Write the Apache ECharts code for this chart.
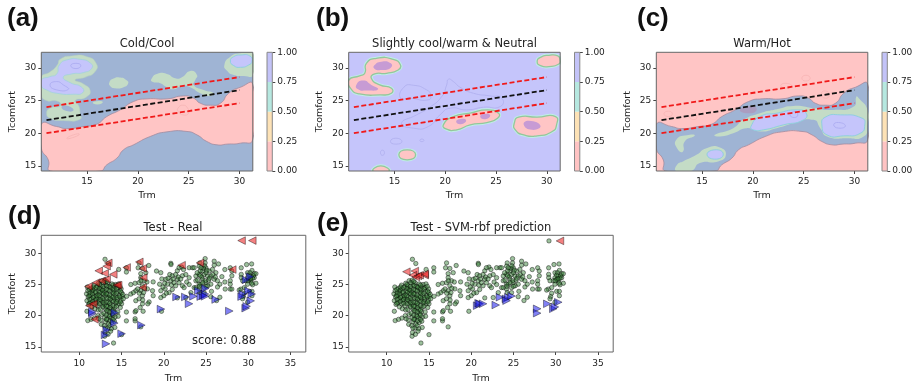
<!DOCTYPE html>
<html><head><meta charset="utf-8">
<style>html,body{margin:0;padding:0;background:#fff}#c{width:921px;height:385px;filter:blur(0.45px)}</style>
<script src="https://cdn.jsdelivr.net/npm/echarts@6/dist/echarts.min.js"></script></head>
<body><div id="c"></div>
<script>
// ---------- decision-region outlines, in data units (Trm, Tcomfort)
const bandOutline=[[10.49,21.38],[12,21.02],[13,20.7],[14.64,21.02],[15.95,21.38],[16.94,22.55],[18.26,23.57],[19.57,24.85],[20.89,25.26],[22.86,25.26],[24.5,25.71],[25.49,25.36],[26.15,24.59],[27.14,24.29],[28.13,24.59],[28.95,26.12],[30.1,27.04],[31.32,27.45],[31.32,19.08],[30.1,18.47],[28.78,18.32],[27.8,18.21],[26.8,18.72],[25.82,19.74],[24.84,20.26],[22.86,20.2],[21.22,19.49],[19.57,18.21],[18.59,17.45],[17.93,16.17],[16.94,15.15],[16.28,14.2],[11.41,14.2],[11.18,15.9],[10.49,17.7]];
const aGreenLeft=[[10.49,28.57],[11.35,29.39],[12.07,30.46],[12.34,31.33],[13.49,31.84],[14.97,31.73],[15.89,30.71],[15.79,29.44],[14.8,28.57],[13.82,28.16],[14.64,27.55],[15.3,26.53],[14.9,25.51],[13.82,25],[14.18,24.18],[14.31,23.06],[14.31,22.14],[12.66,21.94],[11.35,22.3],[11.02,23.06],[11.35,23.83],[12.34,24.18],[12.17,24.85],[10.86,25.1],[10.49,26.12]];
const aHole=[[12.5,24.08],[13.16,24.18],[13.65,23.47],[12.83,23.47]];
const aGreenMid=[[17.2,27.81],[17.6,28.37],[18.26,28.52],[18.85,28.16],[19.05,27.65],[18.59,27.04],[17.76,26.89],[17.27,27.24]];
const aGreenDot=[[15.56,24.69],[16.12,24.95],[16.55,24.74],[16.02,24.39]];
const aGreenRight=[[21.38,28.42],[21.88,29.08],[22.86,29.08],[23.68,28.42],[24.34,28.57],[25.16,29.54],[25.82,28.93],[25.66,28.16],[25.49,27.4],[26.48,26.63],[27.47,26.12],[27.14,25.71],[26.15,26.12],[25.16,27.04],[24.34,27.24],[23.52,26.73],[22.86,27.04],[22.2,27.65],[21.38,27.91]];
const aGreenCorner=[[28.52,30.46],[29.11,31.73],[30.1,32.24],[31.32,32.35],[31.32,28.93],[30.43,28.78],[29.44,28.93],[28.78,29.59]];
const aLavLeft=[[10.49,28.16],[11.35,28.67],[12.01,29.08],[12.27,30.46],[12.99,31.22],[14.31,31.33],[15.36,30.71],[15.46,29.95],[14.64,29.29],[13.49,29.08],[12.66,28.57],[13.32,27.76],[14.47,27.04],[14.57,26.22],[13.65,25.97],[12.01,26.12],[11.02,26.63],[10.49,27.24]];
const aLavCorner=[[29.11,31.07],[29.44,31.73],[30.16,31.99],[31.02,31.84],[31.25,31.07],[30.92,30.46],[30.1,30.1],[29.44,30.36]];
const aLoops=[[[13.39,30.36],[13.91,30.71],[14.38,30.36],[13.91,29.9]],[[11.35,27.4],[12.01,27.91],[12.66,27.4],[13.16,26.73],[12.01,26.63]]];
const aPinkLoops=[[[13,19.18],[13.65,19.74],[14.24,19.85],[13.72,19.39]],[[23.95,23.83],[24.44,24.29],[24.9,23.83],[25,23.06],[24.44,22.8],[24,23.3]]];

const bPink=[
 [[10.52,28.16],[11.57,28.78],[12.07,29.18],[12.23,30.71],[13.22,31.48],[14.87,31.33],[15.59,30.46],[15.36,29.69],[14.21,29.18],[13.05,29.08],[12.72,28.42],[13.55,27.4],[14.7,26.89],[14.7,26.12],[13.55,25.87],[11.57,26.02],[10.75,26.73]],
 [[29.05,30.97],[29.38,31.63],[30.2,31.94],[31.09,31.84],[31.3,31.22],[31.19,30.61],[30.2,30.2],[29.38,30.36]],
 [[19.81,21.28],[20.8,22.55],[22.45,23.06],[24.1,23.57],[25.25,23.06],[25.15,22.3],[24.1,21.63],[22.45,21.28],[21.13,20.51],[20.14,20.61]],
 [[26.8,21.53],[27.23,22.45],[29.05,22.45],[30.86,22.55],[30.96,21.28],[30.53,20.26],[29.05,19.59],[27.73,19.74],[26.9,20.51]],
 [[15.43,16.68],[16.25,17.45],[17.08,16.68],[16.25,15.92]],
 [[12.89,14.2],[13.65,15],[14.47,14.2]]];
const bPurple=[
 [[12.99,30.36],[13.71,30.97],[14.64,30.71],[14.64,30.05],[13.71,29.69],[13.05,29.85]],
 [[11.24,27.4],[11.9,28.06],[12.72,27.4],[13.38,26.73],[12.23,26.53],[11.41,26.73]],
 [[21.07,21.79],[21.54,22.19],[22.06,21.94],[21.54,21.38]],
 [[23.44,22.55],[23.94,22.96],[24.43,22.7],[23.94,22.14]],
 [[27.73,21.28],[28.22,21.89],[29.38,21.12],[28.55,20.51]]];
const bLoops=[
 [[15.59,25.36],[15.92,27.04],[16.85,27.35],[18.17,26.63],[18.56,25.87],[18.33,25.1],[16.52,25.36]],
 [[20.14,27.4],[20.31,28.27],[20.8,27.91],[21.46,27.04],[22.78,26.12],[24.43,25.71],[25.58,25.36],[25.42,24.08],[23.77,23.98],[22.12,23.57],[20.47,23.83],[19.48,22.81],[18.33,21.02],[16.85,20.77],[15.69,21.53],[17.18,22.81],[18.33,23.83],[19.65,25.61]],
 [[14.6,18.72],[15.13,19.23],[15.73,18.72],[15.13,18.32]],
 [[13.62,17],[13.81,17.4],[14.01,17],[13.81,16.6]],
 [[17.5,18.9],[17.7,19.1],[17.9,18.9],[17.7,18.7]]];

const cGreen=[
 [[16.25,19.74],[18.07,20.77],[19.06,22.04],[20.7,23.06],[22.35,23.67],[24,24.18],[25.98,23.83],[27.96,23.57],[29.94,24.08],[30.2,25.61],[30.43,25.36],[31.3,23.57],[31.3,21.28],[30.92,19.49],[29.28,19.23],[27.3,19.49],[26.64,20.77],[25.98,22.04],[24,21.53],[22.35,20.77],[20.7,20.26],[19.39,20.77],[18.07,20],[16.75,19.49]],
 [[12.46,14.2],[12.53,15.15],[13.12,15.66],[14.44,16.68],[15.43,17.7],[16.75,17.81],[17.34,16.68],[16.58,15.66],[14.77,15.41],[13.94,14.2]],
 [[12.46,18.98],[13.78,19.74],[14.27,19.59],[13.29,18.72],[13.12,17.19],[12.63,17.45]]];
const cLav=[
 [[19.81,21.02],[20.7,22.55],[22.35,23.06],[24.33,23.57],[25.25,23.06],[24.99,22.04],[23.01,21.28],[21.03,20.51],[20.04,20.51]],
 [[26.8,21.28],[27.13,22.45],[28.62,22.81],[30.76,22.3],[31.02,21.28],[30.6,20],[28.95,19.59],[27.3,19.74]],
 [[15.49,16.68],[16.25,17.45],[17.08,16.84],[16.42,16.02]]];
const cLavLoops=[[[23.67,22.81],[24.07,23.32],[24.43,22.81],[24.07,22.4]],[[27.96,21.28],[28.45,21.64],[29.11,21.12],[28.45,20.77]]];
const cMauve=[[18.73,23.57],[19.88,24.18],[20.37,23.57],[19.55,23.06]];
const cPinkLoops=[[[11.24,22.96],[11.7,23.37],[12.07,22.96],[11.7,22.55]],[[13.78,22.45],[14.18,22.81],[14.5,22.45],[14.18,22.09]],[[22.75,27.3],[23.24,27.65],[23.84,27.24],[23.24,26.94]],[[24.83,28.42],[25.22,28.88],[25.65,28.42],[25.22,28]],[[26.74,26.02],[27.13,26.48],[27.56,25.87],[27.13,25.36]]];

// ---------- comfort lines
const comfortTrm=[11,30];
const comfortMid=[22,26.6];
const comfortHigh=[24,28.6];
const comfortLow=[20,24.6];

// ---------- test points (d) and (e)
const testGreen=[
[11,19.2],[10.9,20.7],[11.1,21.8],[10.9,22.4],[11.05,23],[10.85,23.5],[11,24],[10.95,24.6],
[11.4,19.4],[11.5,21.4],[11.35,22.1],[11.45,22.7],[11.3,23.3],[11.5,23.9],[11.4,24.4],
[11.8,19.6],[11.85,21.1],[11.75,21.9],[11.9,22.5],[11.7,23.1],[11.85,23.7],[11.8,24.3],[11.75,24.9],
[12.2,20],[12.25,20.9],[12.15,21.6],[12.3,22.3],[12.1,22.9],[12.2,23.4],[12.3,24],[12.15,24.7],[12.25,25.2],
[12.6,18.6],[12.55,19.3],[12.65,20.2],[12.5,21],[12.7,21.7],[12.6,22.4],[12.55,23],[12.7,23.6],[12.6,24.2],[12.5,24.8],[12.65,25.6],
[13,16.7],[13.05,17.3],[12.95,18.4],[13.1,19],[13,19.7],[12.9,20.4],[13.1,21.1],[13,21.8],[12.95,22.5],[13.05,23.2],[13,23.8],[12.9,24.4],[13.1,25],[13,25.7],[13.04,29.05],[13.44,28.37],
[13.4,17],[13.35,18],[13.45,18.7],[13.3,19.4],[13.5,20.1],[13.4,20.8],[13.35,21.5],[13.45,22.2],[13.5,22.9],[13.3,23.5],[13.4,24.1],[13.5,24.7],[13.35,25.3],
[13.8,17.9],[13.85,18.9],[13.75,19.6],[13.9,20.3],[13.8,21],[13.7,21.7],[13.85,22.4],[13.8,23.1],[13.9,23.8],[13.75,24.5],[13.85,25.1],
[14.2,18.1],[14.15,19.1],[14.25,19.8],[14.1,20.6],[14.2,21.3],[14.3,22],[14.15,22.7],[14.25,23.3],[14.1,24],[14.2,24.6],[14.3,25],
[14.6,19.9],[14.55,20.6],[14.65,21.9],[14.5,22.6],[14.7,23.2],[14.6,23.9],[14.55,24.5],[14.65,25.1],
[15,21.9],[14.95,22.5],[15.05,23.1],[15,23.7],[14.95,24.3],[14.66,27.42],[15.57,27.68],[15.57,27],[14.05,15.6],[15,16.95],
// denser core of the cold cluster
[11.2,22],[11.25,22.6],[11.15,23.2],[11.25,23.7],[11.2,24.2],[11.6,22.3],[11.65,22.9],[11.55,23.5],[11.6,24.1],[11.65,24.6],[12,22],[12,22.6],[12.05,23.2],[11.95,23.8],[12,24.5],[12.4,21.9],[12.45,22.6],[12.35,23.2],[12.45,23.8],[12.4,24.4],[12.4,25],[12.8,21.4],[12.85,22.1],[12.8,22.8],[12.85,23.5],[12.75,24.1],[12.8,24.7],[12.85,25.3],[13.2,19.4],[13.2,20.1],[13.25,20.8],[13.2,21.5],[13.2,22.2],[13.25,22.8],[13.2,23.5],[13.2,24.2],[13.25,24.8],[13.2,25.5],[13.6,18.4],[13.65,19.2],[13.6,19.9],[13.6,20.6],[13.65,21.3],[13.6,22],[13.65,22.7],[13.6,23.3],[13.6,24],[13.65,24.6],[14,19.4],[14,20.1],[14,20.9],[14,21.6],[14.05,22.3],[14,23],[14.05,23.6],[14,24.3],[14,24.9],[14.4,21.5],[14.4,22.2],[14.45,22.9],[14.4,23.6],[14.4,24.3],[14.85,21.3],[14.85,22.2],[14.8,23],[14.85,23.9],[14.8,24.7],[15.15,23.4],[15.2,22.7],[13.1,18],[13.7,17.5],[12.3,19.5],
[17.08,28.47],[16.96,27.68],[17.47,27.58],[18.22,28.05],[17.27,26.74],[17.87,26.9],[16.09,25],[18.74,25.42],[16.6,25.2],[16.09,23.47],[16.68,24],[16.68,22.4],[16.6,20.6],[16.7,20.8],[15.57,20.58],[15.57,19.16],[16.6,19.16],[17.27,18.2],[16.6,19.5],
[17.27,26.1],[17.07,25.3],[17.47,24.8],[17.27,24],[17.47,23.2],[17.07,22.7],[17.47,21.9],[17.55,20.7],[17.67,25.6],[18.06,24.3],[18.66,24],[18.74,23.2],[18.26,22.2],[18.1,21.9],[15.6,23.1],[16.4,23.7],[17.7,24.4],[17.1,23.6],[17.5,22.5],[16.9,24.3],[17.3,25.6],[17.6,23.7],[17.2,21.3],[18,25.4],
[19.72,20.7],[19.13,27.16],[20.83,28.4],[20.85,28.2],[21.6,27.2],[22.1,27.8],[22.33,27.4],[23,27.7],[23.4,27.7],
[19.64,26.9],[19.76,25.9],[19.5,25.05],[19.64,24],[20.16,24.3],[20.43,25.05],[20.7,26.6],[21,26.4],[20.83,25.6],[20.24,25.84],[20,23.2],[19.64,22.9],[20.63,23.7],[21.4,26.6],[21.6,25.84],[21.8,27.7],[22.2,26.4],[21.4,24.8],[22.2,24.8],[22.4,24.5],[21.8,25.3],[23,25],[23.2,23.7],[22.6,22.9],[21.6,22.85],[23,26.1],[20.9,24.9],[21.2,25.3],[20.5,26],[20.1,25.2],[19.9,24.6],[21,24.2],[21.7,26.2],[21.1,25.9],[22,25.9],[20.3,23.6],[22.6,26.6],[22.7,25.4],
[24.89,29.16],[24.89,28.47],[25.96,28.74],[25.96,28.1],[26.47,28.3],[24.26,28.47],[24.18,27.95],[23.59,27.7],[27.22,27.4],[27.86,27.68],[28.05,27.16],[28.05,26.4],[26.87,26.26],[27.22,25.4],[26.63,25.05],[26.35,24.6],[27.86,25.6],[27.86,25.05],[27.86,24.26],[28.05,24.26],[27.26,24.26],[25.64,23.9],[25.56,23.05],[26.24,22.42],[26.63,22.95],
[24.97,27.7],[24.58,27.16],[24.18,26.6],[23.79,26.37],[23.79,25.6],[23.59,24.5],[24.18,25.05],[24.77,26.6],[25.17,26.37],[24.58,25.84],[24.38,25.05],[24.77,24.5],[24.18,24.26],[24.97,25.3],[25.37,27.16],[25.76,27.42],[25.56,26.37],[25.96,25.84],[26.16,26.9],[26.35,25.6],[25.56,25.05],[24.77,23.7],[24.26,23.7],[23.79,24.5],[24.3,27.2],[24.7,27.6],[25,26.9],[24.5,26.2],[25.3,25.7],[25.2,24.8],[24,25.7],[24.9,25.6],[25.8,26.6],[26.1,26.2],[24.4,27.7],[24.8,28],[25.1,27.3],[24.3,26.4],[24.6,25.3],[25,24.7],[25.4,26],[23.95,26.9],[24.2,24.7],
[29.16,27.68],[29.79,28.2],[30.39,28.3],[29.16,26.63],[29.16,26.1],[29.91,26.9],[30.43,27.26],[30.7,26.74],[30.9,26.74],[30.3,26.37],[29.91,26.1],[29.71,25.6],[30.3,25.6],[30.9,25.2],[29.32,25.6],[29.91,25.05],[30.5,24.95],[29.12,24.26],[28.92,24.1],[29.52,23.6],[29.4,23.05],[30.11,23.9],[30.43,23.9],[30.43,23.2],[29.32,22.7],[29.91,22.16],[29.52,24.5],[30.7,26.1],[30.11,25.84],[30.2,26.9],[30.6,26.4],[30.4,25.2],[30.1,26.5],[30.5,26],[30.25,25.9],[29.95,25.6]];
const predOnlyGreen=[[29.2,32]];
const realRed=[[29.2,32.05],[30.47,32.05],[12.29,27.2],[13,26.8],[13.43,28.47],[13.23,27.95],[14.02,26.63],[15.6,27.74],[17.1,28.63],[17.5,27.58],[17.5,24.53],[22.1,28.1],[24.28,28.47],[28.1,27.4],[17.57,26.1],[14.42,24.9],[14.6,24.9],[11.07,24.68],[11.97,25.3],[12.64,25.6],[11.18,21.6],[11.8,19.4],[11.66,21.9],[13.23,25.84]];
const realBlue=[[13.16,15.47],[13.04,16.9],[13.23,17.7],[15,17.1],[17.34,18.47],[14.14,18.8],[14.2,20.47],[11.54,20.3],[11.54,20.6],[19.66,21.05],[21.5,23],[22.54,23],[23.5,23.1],[22.98,21.9],[24.08,24],[24.9,24.37],[24.36,23.05],[24.67,23.2],[24.87,23.47],[26.13,22.58],[27.75,20.74],[29.68,21.2],[29.8,21.5],[30.28,22.37],[30.4,23.47],[29.33,23.47],[29.2,23.05],[30,24],[29.72,25.74],[30.2,26.26],[24.87,23.1]];
const predRed=[[12.33,27.05],[13.32,27.16],[13.1,26.5],[13.44,26.2],[13.7,26.37],[13.9,26.5],[14.5,26.5],[14.5,26.7],[30.5,32]];
const predBlue=[[20.7,21.6],[20.87,22],[21,21.9],[21.4,21.9],[22.9,21.7],[23.39,22.95],[24.1,22.7],[24.38,22.95],[24.77,23.15],[24.18,22.4],[29,21.9],[30.3,22.16],[29.71,21.1],[29.9,21.4],[27.8,21.1],[27.8,20.4]];

// ---------- ticks, levels, texts
const contourXTicks=[15,20,25,30];
const contourYTicks=[15,20,25,30];
const scatterXTicks=[10,15,20,25,30,35];
const scatterYTicks=[15,20,25,30];
const cbBands=[0.25,0.25,0.25,0.25];
const cbColors=['#ffc3c3','#fde2b6','#b6e8e0','#c3c3f8'];
const titles=['Cold/Cool','Slightly cool/warm & Neutral','Warm/Hot','Test - Real','Test - SVM-rbf prediction'];
const panelTags=['(a)','(b)','(c)','(d)','(e)'];
const scoreText='score: 0.88';

// ---------- layout
const PINK='#ffc5c5',STEEL='#9fb4d4',GREEN='#c4dcc6',LAV='#c5c5fb',PURPLE='#c79bd4',EDGE='#a58c9e',INK='#222',FONT='DejaVu Sans';
const contourLefts=[41.3,348.7,656.3];
const cbLefts=[267,574.5,882];
const grids=[],xAxes=[],yAxes=[],series=[];
let layerZ=2;

function region(g,pts,fill,stroke,lw){
  series.push({type:'custom',coordinateSystem:'cartesian2d',xAxisIndex:g,yAxisIndex:g,silent:true,clip:true,z:layerZ++,data:pts,
    renderItem:(p,api)=>{ if(p.dataIndex!==0) return null;
      return {type:'polygon',shape:{points:pts.map(q=>api.coord(q)),smooth:0.6},
        style:{fill:fill||'none',stroke:stroke||'none',lineWidth:lw||0}};}});
}
function field(g,fill){
  series.push({type:'custom',coordinateSystem:'cartesian2d',xAxisIndex:g,yAxisIndex:g,silent:true,clip:true,z:1,data:[[10.49,32.4,31.32,14.2]],
    renderItem:(p,api)=>{const a=api.coord([api.value(0),api.value(1)]),b=api.coord([api.value(2),api.value(3)]);
      return {type:'rect',shape:{x:a[0],y:a[1],width:b[0]-a[0],height:b[1]-a[1]},style:{fill}};}});
}
function dashed(g,vals,color){
  series.push({type:'line',xAxisIndex:g,yAxisIndex:g,z:200,silent:true,symbol:'none',
    data:comfortTrm.map((t,i)=>[t,vals[i]]),lineStyle:{color,width:1.8,type:[5,2.5]}});
}
function dots(g,pts){
  series.push({type:'scatter',xAxisIndex:g,yAxisIndex:g,z:50,silent:true,symbol:'circle',symbolSize:4.4,data:pts,
    itemStyle:{color:'rgba(50,125,50,0.6)',borderColor:'rgba(0,0,0,0.75)',borderWidth:0.7}});
}
function tris(g,pts,color,rot){
  series.push({type:'scatter',xAxisIndex:g,yAxisIndex:g,z:60,silent:true,symbol:'triangle',symbolRotate:rot,symbolSize:7.6,data:pts,
    itemStyle:{color,borderColor:'rgba(0,0,0,0.7)',borderWidth:0.7}});
}
function axisBase(ticks,min,max,name,gap,margin){
  return {type:'value',min,max,name,nameLocation:'middle',nameGap:gap,
    nameTextStyle:{fontFamily:FONT,fontSize:9.5,color:INK},
    splitLine:{show:false},axisLine:{show:false},
    axisTick:{show:true,length:3,lineStyle:{color:'#444',width:1},customValues:ticks},
    axisLabel:{show:true,fontFamily:FONT,fontSize:9,color:INK,margin,customValues:ticks,hideOverlap:false}};
}
function addGrid(left,top,w,h,xa,ya){
  const g=grids.length;
  grids.push({left,top,width:w,height:h,show:true,borderColor:'#666',borderWidth:1,backgroundColor:'transparent',z:150,containLabel:false});
  xa.gridIndex=g;ya.gridIndex=g;
  xAxes.push(xa);yAxes.push(ya);
  return g;
}

// contour panels
contourLefts.forEach((l,i)=>{
  const g=addGrid(l,52.3,211.5,118.7,
    axisBase(contourXTicks,10.49,31.32,'Trm',20,6),
    axisBase(contourYTicks,14.2,32.4,'Tcomfort',24,5));
  field(g,[STEEL,LAV,PINK][i]);
  if(i===0){
    region(g,bandOutline,PINK,EDGE,0.8);
    region(g,aGreenLeft,GREEN,'#b9d4bc',0.5);
    region(g,aHole,STEEL);
    [aGreenMid,aGreenDot,aGreenRight,aGreenCorner].forEach(p=>region(g,p,GREEN));
    region(g,aLavLeft,LAV,'#a7d3de',1);
    region(g,aLavCorner,LAV,'#8fcfe0',1);
    aLoops.forEach(p=>region(g,p,null,'#aaaaf0',0.8));
    aPinkLoops.forEach(p=>region(g,p,null,'#f5b4b4',0.8));
  }
  if(i===1){
    bPink.forEach(p=>region(g,p,null,'#bfeee6',3.2));
    bPink.forEach(p=>region(g,p,PINK,'#93c79c',1.3));
    bPurple.forEach(p=>region(g,p,PURPLE));
    bLoops.forEach(p=>region(g,p,null,'#afafee',0.8));
  }
  if(i===2){
    region(g,bandOutline,STEEL,EDGE,0.8);
    cGreen.forEach(p=>region(g,p,GREEN));
    cLav.forEach(p=>region(g,p,LAV,'#8fcfe0',1));
    cLavLoops.forEach(p=>region(g,p,null,'#aaaaf0',0.8));
    region(g,cMauve,'#ab9dc0');
    cPinkLoops.forEach(p=>region(g,p,null,'#f7b4b4',0.8));
  }
  dashed(g,comfortHigh,'#f01a1a');
  dashed(g,comfortLow,'#f01a1a');
  dashed(g,comfortMid,'#111');
  // colour bar
  const cb=addGrid(cbLefts[i],52.3,5.3,118.7,
    {type:'category',data:['levels'],show:false},
    {type:'value',min:0,max:1,interval:0.25,position:'right',splitLine:{show:false},axisLine:{show:false},
     axisTick:{show:true,length:3,lineStyle:{color:'#444',width:1}},
     axisLabel:{show:true,fontFamily:FONT,fontSize:9,color:INK,margin:5,formatter:v=>v.toFixed(2)}});
  grids[cb].borderColor='#888';
  cbBands.forEach((v,k)=>series.push({type:'bar',xAxisIndex:cb,yAxisIndex:cb,stack:'cb'+i,barWidth:'100%',silent:true,data:[v],itemStyle:{color:cbColors[k]}}));
});

// scatter panels
[41.3,348.7].forEach((l,i)=>{
  const g=addGrid(l,235.3,264.5,118.7,
    axisBase(scatterXTicks,5.5,36.8,'Trm',22,7),
    axisBase(scatterYTicks,14.16,32.9,'Tcomfort',24,5));
  const red='rgba(235,30,30,0.7)',blue='rgba(30,30,235,0.7)';
  if(i===0){dots(g,testGreen);tris(g,realRed,red,90);tris(g,realBlue,blue,-90);}
  else{dots(g,testGreen.concat(predOnlyGreen));tris(g,predRed,red,90);tris(g,predBlue,blue,-90);}
});

const titlePos=[[147,38],[454.5,38],[762,38],[173,222],[481,222]];
const tagPos=[[7,6],[316,6],[637,6],[8,204],[317,211]];
const tt=[];
titles.forEach((t,i)=>tt.push({text:t,left:titlePos[i][0],top:titlePos[i][1],textAlign:'center',padding:0,
  textStyle:{fontFamily:FONT,fontSize:11.5,fontWeight:'normal',color:INK}}));
panelTags.forEach((t,i)=>tt.push({text:t,left:tagPos[i][0],top:tagPos[i][1],padding:0,
  textStyle:{fontFamily:'Liberation Sans',fontSize:26,fontWeight:'bold',color:'#111'}}));
tt.push({text:scoreText,left:192,top:335,padding:0,textStyle:{fontFamily:FONT,fontSize:11.5,fontWeight:'normal',color:INK}});

const chart=echarts.init(document.getElementById('c'),null,{renderer:'canvas'});
chart.setOption({animation:false,backgroundColor:'#fff',title:tt,grid:grids,xAxis:xAxes,yAxis:yAxes,series});
</script></body></html>
